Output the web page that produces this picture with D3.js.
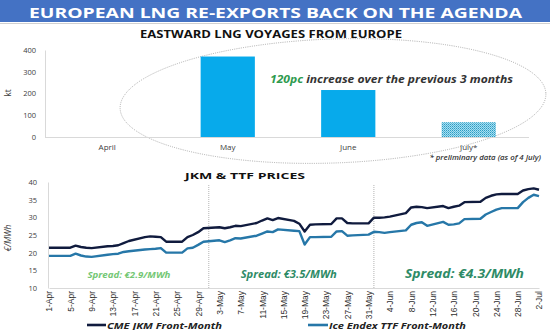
<!DOCTYPE html>
<html><head><meta charset="utf-8">
<script src="https://cdn.jsdelivr.net/npm/d3@7/dist/d3.min.js"></script>
<style>body{margin:0;background:#fff}svg{display:block}</style>
</head><body>
<svg id="c" width="550" height="330"></svg>
<script>
const titleText = "EUROPEAN LNG RE-EXPORTS BACK ON THE AGENDA";
const barTitle = "EASTWARD LNG VOYAGES FROM EUROPE";
const lineTitle = "JKM & TTF PRICES";
const months = ["April", "May", "June", "July*"];
const voyagesKt = [0, 370, 216, 68];
const barTicks = [0, 100, 200, 300, 400];
const barUnit = "kt";
const calloutStrong = "120pc";
const calloutRest = " increase over the previous 3 months";
const footnote = "* preliminary data (as of 4 July)";

const priceDates = ["2021-04-01","2021-04-05","2021-04-06","2021-04-07","2021-04-08","2021-04-09","2021-04-12","2021-04-13","2021-04-14","2021-04-15","2021-04-16","2021-04-19","2021-04-20","2021-04-21","2021-04-22","2021-04-23","2021-04-26","2021-04-27","2021-04-28","2021-04-29","2021-04-30","2021-05-03","2021-05-04","2021-05-05","2021-05-06","2021-05-07","2021-05-10","2021-05-11","2021-05-12","2021-05-13","2021-05-14","2021-05-17","2021-05-18","2021-05-19","2021-05-20","2021-05-21","2021-05-24","2021-05-25","2021-05-26","2021-05-27","2021-05-28","2021-05-31","2021-06-01","2021-06-02","2021-06-03","2021-06-04","2021-06-07","2021-06-08","2021-06-09","2021-06-10","2021-06-11","2021-06-14","2021-06-15","2021-06-16","2021-06-17","2021-06-18","2021-06-21","2021-06-22","2021-06-23","2021-06-24","2021-06-25","2021-06-28","2021-06-29","2021-06-30","2021-07-01","2021-07-02"];
const jkm = [21.4,21.4,22.0,21.6,21.4,21.3,21.8,21.9,22.1,22.7,23.3,24.4,24.6,24.5,24.4,23.1,23.1,24.4,25.0,25.8,26.9,27.2,26.9,27.2,27.6,27.5,28.4,29.1,29.7,29.2,29.8,29.0,28.2,26.0,27.9,28.0,28.1,29.7,29.7,28.4,28.3,28.3,29.9,29.9,30.0,30.2,31.2,32.8,33.0,32.9,32.6,33.2,32.6,33.0,33.3,34.3,34.4,35.5,36.1,36.5,36.6,36.6,37.6,38.0,38.2,37.8];
const ttf = [19.1,19.1,19.7,19.2,18.9,18.8,19.4,19.6,19.7,20.2,20.4,20.9,21.0,21.1,21.3,20.0,20.0,21.2,21.4,22.2,23.1,23.5,23.0,23.5,24.1,24.0,24.8,25.4,26.0,25.8,26.6,26.2,26.1,22.3,24.4,24.4,24.5,26.0,26.1,24.8,24.9,25.1,25.9,25.8,25.6,25.8,26.3,27.9,28.4,28.6,27.6,28.7,27.9,28.0,28.3,29.5,29.6,30.8,31.5,32.2,32.6,32.6,34.3,35.5,36.4,36.0];
const priceTicks = [10, 15, 20, 25, 30, 35, 40];
const priceUnit = "€/MWh";
const dateTickLabels = ["1-Apr","5-Apr","9-Apr","13-Apr","17-Apr","21-Apr","25-Apr","29-Apr","3-May","7-May","11-May","15-May","19-May","23-May","27-May","31-May","4-Jun","8-Jun","12-Jun","16-Jun","20-Jun","24-Jun","28-Jun","2-Jul"];
const dividerDates = ["2021-05-01", "2021-06-01"];
const spreadLabels = ["Spread: €2.9/MWh", "Spread: €3.5/MWh", "Spread: €4.3/MWh"];
const seriesNames = ["CME JKM Front-Month", "Ice Endex TTF Front-Month"];

const svg = d3.select("#c");
const FONT = "'Open Sans', 'DejaVu Sans', sans-serif";
const NARROW = "'Liberation Sans Narrow', 'Liberation Sans', Arial, sans-serif";
const parse = d3.timeParse("%Y-%m-%d");
const parseTick = d3.timeParse("%d-%b-%Y");

// defs: hatch pattern
const defs = svg.append("defs");
const pat = defs.append("pattern").attr("id","dots").attr("width",2).attr("height",2).attr("patternUnits","userSpaceOnUse");
pat.append("rect").attr("width",2).attr("height",2).attr("fill","#a9def0");
pat.append("rect").attr("width",1).attr("height",1).attr("fill","#2a9cc4");
pat.append("rect").attr("x",1).attr("y",1).attr("width",1).attr("height",1).attr("fill","#58b8d8");

// banner
svg.append("rect").attr("x",0).attr("y",0).attr("width",550).attr("height",22).attr("fill","#4472C4");
svg.append("line").attr("x1",0).attr("x2",550).attr("y1",23.5).attr("y2",23.5).attr("stroke","#d0d0d0");
svg.append("text").attr("x",29).attr("y",18).attr("fill","#fff").attr("font-family",FONT)
  .attr("font-weight","bold").attr("font-size",15).attr("textLength",493).attr("lengthAdjust","spacingAndGlyphs").text(titleText);

// ---------- bar chart ----------
svg.append("text").attr("x",140).attr("y",37.5).attr("fill","#111").attr("font-family",FONT)
  .attr("font-weight","bold").attr("font-size",10).attr("textLength",262).attr("lengthAdjust","spacingAndGlyphs").text(barTitle);

const yB = d3.scaleLinear().domain([0,400]).range([137,50]);
const xB = d3.scaleBand().domain(months).range([47,529]).paddingInner(0.55).paddingOuter(0.275);

// ellipse callout
svg.append("ellipse").attr("cx",333).attr("cy",101).attr("rx",213).attr("ry",62)
  .attr("transform","rotate(-2,333,101)")
  .attr("fill","none").attr("stroke","#9a9a9a").attr("stroke-width",0.8).attr("stroke-dasharray","1,1.2");

const gyB = svg.append("g").attr("transform","translate(45,0)")
  .call(d3.axisLeft(yB).tickValues(barTicks).tickSize(0).tickPadding(9));
gyB.select(".domain").attr("stroke","#d9d9d9");
gyB.selectAll("text").attr("font-family",FONT).attr("font-size",7.5).attr("fill","#404040");

svg.append("line").attr("x1",45).attr("x2",529).attr("y1",yB(0)+0.5).attr("y2",yB(0)+0.5).attr("stroke","#d9d9d9");

svg.append("g").selectAll("rect").data(months).join("rect")
  .attr("x", d => xB(d)).attr("width", xB.bandwidth())
  .attr("y", (d,i) => yB(voyagesKt[i])).attr("height", (d,i) => yB(0) - yB(voyagesKt[i]))
  .attr("fill", (d,i) => i === 3 ? "url(#dots)" : "#07AAEB");

svg.append("g").selectAll("text").data(months).join("text")
  .attr("x", d => xB(d) + xB.bandwidth()/2).attr("y",150).attr("text-anchor","middle")
  .attr("font-family",FONT).attr("font-size",8).attr("fill","#404040").text(d => d);

svg.append("text").attr("transform","translate(11,93) rotate(-90)").attr("text-anchor","middle")
  .attr("font-family",FONT).attr("font-size",8.5).attr("fill","#404040").text(barUnit);

const co = svg.append("text").attr("x",270).attr("y",83).attr("font-family",FONT).attr("font-weight","bold")
  .attr("font-style","italic").attr("font-size",11).attr("textLength",243).attr("lengthAdjust","spacingAndGlyphs");
co.append("tspan").attr("fill","#2E9A4E").text(calloutStrong);
co.append("tspan").attr("fill","#333").text(calloutRest);

svg.append("text").attr("x",541).attr("y",160).attr("text-anchor","end").attr("font-family",FONT)
  .attr("font-style","italic").attr("font-weight","600").attr("font-size",7.8).attr("fill","#333").text(footnote);

// ---------- line chart ----------
svg.append("text").attr("x",185).attr("y",179).attr("fill","#111").attr("font-family",FONT)
  .attr("font-weight","bold").attr("font-size",9.5).attr("textLength",120).attr("lengthAdjust","spacingAndGlyphs").text(lineTitle);

const dates = priceDates.map(parse);
const xL = d3.scaleTime().domain([parse("2021-04-01"), parse("2021-07-02")]).range([49,539]);
const yL = d3.scaleLinear().domain([10,40]).range([288,182]);

const gyL = svg.append("g").attr("transform","translate(48,0)")
  .call(d3.axisLeft(yL).tickValues(priceTicks).tickSize(0).tickPadding(11));
gyL.select(".domain").attr("stroke","#d9d9d9");
gyL.selectAll("text").attr("font-family",FONT).attr("font-size",7.5).attr("fill","#404040");

svg.append("text").attr("transform","translate(11,238) rotate(-90)").attr("text-anchor","middle")
  .attr("font-family",FONT).attr("font-style","italic").attr("font-size",8.5).attr("fill","#404040").text(priceUnit);

const tickDates = dateTickLabels.map(l => parseTick(l + "-2021"));
const gxL = svg.append("g").attr("transform",`translate(0,${yL(10)})`)
  .call(d3.axisBottom(xL).tickValues(tickDates).tickSize(0).tickFormat((d,i) => dateTickLabels[i]));
gxL.select(".domain").attr("stroke","#d9d9d9");
gxL.selectAll("text").attr("font-family",NARROW).attr("font-size",8.5).attr("fill","#303030")
  .attr("text-anchor","end").attr("transform","rotate(-90)").attr("x",-3).attr("y",0).attr("dy","0.35em");

// dividers
svg.append("g").selectAll("line").data(dividerDates.map(parse)).join("line")
  .attr("x1", d => xL(d)).attr("x2", d => xL(d)).attr("y1",185).attr("y2",yL(10))
  .attr("stroke","#a0a0a0").attr("stroke-width",0.8).attr("stroke-dasharray","1,1");

const line = d3.line().x((d,i) => xL(dates[i])).y(d => yL(d));
svg.append("path").datum(ttf).attr("d",line).attr("fill","none").attr("stroke","#2677A8").attr("stroke-width",2.4).attr("stroke-linejoin","round");
svg.append("path").datum(jkm).attr("d",line).attr("fill","none").attr("stroke","#101B3E").attr("stroke-width",2.4).attr("stroke-linejoin","round");

// spread labels
const spreadPos = [{d:"2021-04-16", fs:9, c:"#74C774", w:83}, {d:"2021-05-16", fs:11, c:"#2E8B66", w:96}, {d:"2021-06-18", fs:12.5, c:"#2E8B66", w:119}];
svg.append("g").selectAll("text").data(spreadLabels).join("text")
  .attr("x", (d,i) => xL(parse(spreadPos[i].d)) - spreadPos[i].w/2).attr("y",278)
  .attr("font-family",FONT).attr("font-weight","bold").attr("font-style","italic")
  .attr("font-size",(d,i) => spreadPos[i].fs).attr("fill",(d,i) => spreadPos[i].c)
  .attr("textLength",(d,i) => spreadPos[i].w).attr("lengthAdjust","spacingAndGlyphs").text(d => d);

// legend
const legendItems = [{x1:87,x2:106,tx:107,w:115,c:"#101B3E"},{x1:308,x2:328,tx:329,w:137,c:"#2677A8"}];
const lg = svg.append("g").selectAll("g").data(seriesNames).join("g");
lg.append("line").attr("x1",(d,i)=>legendItems[i].x1).attr("x2",(d,i)=>legendItems[i].x2)
  .attr("y1",325).attr("y2",325).attr("stroke",(d,i)=>legendItems[i].c).attr("stroke-width",2.6);
lg.append("text").attr("x",(d,i)=>legendItems[i].tx).attr("y",328.5).attr("font-family",FONT)
  .attr("font-weight","bold").attr("font-style","italic").attr("font-size",9.5).attr("fill","#222")
  .attr("textLength",(d,i)=>legendItems[i].w).attr("lengthAdjust","spacingAndGlyphs").text(d => d);
</script>
</body></html>
